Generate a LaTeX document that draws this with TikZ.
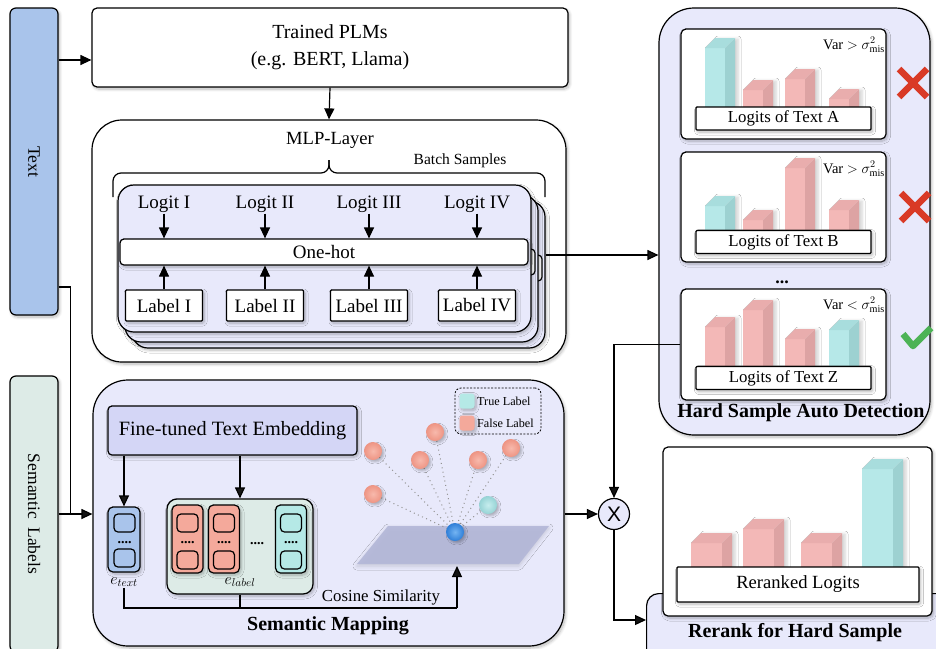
\documentclass[tikz,border=0pt]{standalone}
\usepackage{fix-cm}
\usepackage{fontspec}
\setmainfont{Liberation Serif}
\newfontfamily\sansX{Liberation Sans}
\usetikzlibrary{arrows.meta,shadows.blur,calc}

\definecolor{textblue}{HTML}{A9C4EB}
\definecolor{semgreen}{HTML}{DDEBE7}
\definecolor{lav}{HTML}{E8E9FB}
\definecolor{embfill}{HTML}{D4D6F6}
\definecolor{pinkF}{HTML}{F3B8B7}
\definecolor{pinkS}{HTML}{DDA3A3}
\definecolor{pinkT}{HTML}{E9ADAD}
\definecolor{cyanF}{HTML}{B6E8E8}
\definecolor{cyanS}{HTML}{9DD1D1}
\definecolor{cyanT}{HTML}{A8DDDD}
\definecolor{cellred}{HTML}{F4A99B}
\definecolor{cellcyan}{HTML}{B5E9E6}
\definecolor{pinkin}{HTML}{F7B9AC}
\definecolor{pinkout}{HTML}{EE9483}
\definecolor{cyanin}{HTML}{C6EDEE}
\definecolor{cyanout}{HTML}{96D3D5}
\definecolor{bluein}{HTML}{74B4F2}
\definecolor{blueout}{HTML}{2F7FD8}
\definecolor{planec}{HTML}{B3B7D8}
\definecolor{crossred}{HTML}{D93A26}
\definecolor{checkgreen}{HTML}{4DB356}

\newcommand\setfs[2]{\fontsize{#1}{#2}\selectfont}

% 3-D bar: left x, front-top y, bottom y, width, colour prefix
\newcommand\logitbar[5]{%
  \path[blur shadow={shadow xshift=3pt,shadow yshift=-1pt,shadow blur radius=3pt,shadow opacity=18}]
    (#1,#3) -- (#1,#2) -- (#1+10,#2-10) -- (#1+#4+10,#2-10) -- (#1+#4+10,#3) -- cycle;
  \fill[#5F] (#1,#2) rectangle (#1+#4,#3);
  \fill[#5S] (#1+#4,#2) -- (#1+#4+10,#2-10) -- (#1+#4+10,#3) -- (#1+#4,#3) -- cycle;
  \fill[#5T] (#1,#2) -- (#1+10,#2-10) -- (#1+#4+10,#2-10) -- (#1+#4,#2) -- cycle;
}

\tikzset{
  ln/.style={line width=1.2pt},
  arr/.style={line width=1.2pt, -{Triangle[length=11pt,width=10pt]}},
  shd/.style={blur shadow={shadow xshift=1.5pt, shadow yshift=-2pt, shadow blur radius=3pt, shadow blur steps=8, shadow opacity=28}},
  frame/.style={draw, line width=1.2pt, rounded corners=#1, inner sep=0pt},
  ball/.style={circle, minimum size=18pt, inner sep=0pt, shade, inner color=#1in, outer color=#1out,
    blur shadow={shadow xshift=2pt, shadow yshift=-2pt, shadow blur radius=2pt, shadow opacity=25}},
  title/.style={font=\bfseries\setfs{20}{22}, inner sep=1pt},
  dots/.style={anchor=base, font=\bfseries\setfs{14}{14}, inner sep=0pt},
}

\begin{document}
\begin{tikzpicture}[x=1pt,y=-1pt]
\useasboundingbox (0,0) rectangle (936,648);
\clip (0,0) rectangle (936,648);

% ---------- input bars ----------
\node[frame=6pt, fill=textblue, minimum width=48pt, minimum height=307pt, shd] (textbar) at (34,161.5) {};
\node[rotate=-90, font=\setfs{17.5}{18}] (textlbl) at (textbar) {Text};
\node[frame=6pt, fill=semgreen, minimum width=48pt, minimum height=276pt, shd] (semlab) at (34,514) {};
\node[rotate=-90, font=\setfs{17.5}{18}] (semlbl) at (semlab) {Semantic\hspace{4pt} Labels};

% ---------- PLM and MLP ----------
\node[frame=5pt, fill=white, minimum width=476pt, minimum height=79pt, align=center,
      font=\setfs{20}{27}, shd] (plm) at (330,47.5) {Trained PLMs\\(e.g. BERT, Llama)};
\node[frame=30pt, fill=white, minimum width=474pt, minimum height=242pt, shd] (mlp) at (329,241) {};
\node[font=\setfs{18.6}{20}] (mlpt) at (330,140) {MLP-Layer};

% brace over the batch
\draw[ln, rounded corners=8pt] (113,197) |- (329,173) -- (329,160);
\draw[ln, rounded corners=8pt] (545,197) |- (329,173) -- (329,160);
\node[font=\setfs{15.5}{16}] (batcht) at (460,161) {Batch Samples};

% stacked samples (back to front)
\foreach \dx/\dy/\n in {14/16/3, 7/10/2}{
  \node[frame=16pt, fill=lav, minimum width=413pt, minimum height=147pt, shd] (fr\n) at (324.5+\dx,258.5+\dy) {};
  \node[frame=4pt, fill=white, minimum width=408pt, minimum height=26pt] (oh\n) at (324+\dx,252+\dy) {};
}
\node[frame=16pt, fill=lav, minimum width=413pt, minimum height=147pt, shd] (fr1) at (324.5,258.5) {};
\node[frame=4pt, fill=white, minimum width=408pt, minimum height=26pt, font=\setfs{19}{20}, shd] (oh) at (324,252) {One-hot};

\foreach \i/\x/\t in {1/164/I, 2/265/II, 3/369/III, 4/477/IV}{
  \node[font=\setfs{19}{20}, inner sep=1pt] (lg\i) at (\x,204) {Logit \t};
  \node[frame=1pt, fill=white, minimum width=77pt, minimum height=31pt, font=\setfs{19}{20}, shd] (lb\i) at (\x,305.5) {Label \t};
  \draw[arr] (lg\i.south) -- (lg\i.south |- oh.north);
  \draw[arr] (lb\i.north) -- (lb\i.north |- oh.south);
}

\draw[arr] (plm.south) -- (mlp.north);
\draw[arr] (textbar.east |- 0,60) -- (plm.west |- 0,60);

% ---------- hard sample auto detection ----------
\node[frame=35pt, fill=lav, minimum width=271pt, minimum height=427pt, shd] (hsad) at (794.5,221.5) {};
\node[title] (hsadt) at (801,413) {Hard Sample Auto Detection};

% panel A
\node[frame=5pt, fill=white, minimum width=205pt, minimum height=110pt, shd] (pa) at (783.5,84) {};
\logitbar{705}{48}{115}{20}{cyan}
\logitbar{743}{90}{115}{20}{pink}
\logitbar{785}{79}{115}{20}{pink}
\logitbar{829}{99}{115}{20}{pink}
\node[frame=1pt, fill=white, minimum width=175pt, minimum height=23pt, font=\setfs{16.8}{17}, shd] (la) at (783.5,118.5) {Logits of Text A};
\node[anchor=east, font=\setfs{14.5}{15}, inner sep=1pt] (va) at (886,45) {Var $>$ $\sigma^2_{\mathrm{mis}}$};

% panel B
\node[frame=5pt, fill=white, minimum width=205pt, minimum height=110pt, shd] (pb) at (783.5,207) {};
\logitbar{705}{206}{240}{20}{cyan}
\logitbar{743}{220}{240}{20}{pink}
\logitbar{785}{168}{240}{20}{pink}
\logitbar{829}{210}{240}{20}{pink}
\node[frame=1pt, fill=white, minimum width=175pt, minimum height=23pt, font=\setfs{16.8}{17}, shd] (lbb) at (783.5,242) {Logits of Text B};
\node[anchor=east, font=\setfs{14.5}{15}, inner sep=1pt] (vb) at (886,169) {Var $>$ $\sigma^2_{\mathrm{mis}}$};

\node[dots, font=\bfseries\setfs{18}{18}] (ell) at (782,283) {...};

% panel Z
\node[frame=5pt, fill=white, minimum width=205pt, minimum height=111pt, shd] (pz) at (783.5,344.5) {};
\logitbar{705}{327}{375}{20}{pink}
\logitbar{743}{310}{375}{20}{pink}
\logitbar{785}{339}{375}{20}{pink}
\logitbar{829}{330}{375}{20}{cyan}
\node[frame=1pt, fill=white, minimum width=175pt, minimum height=23pt, font=\setfs{16.8}{17}, shd] (lz) at (783.5,378) {Logits of Text Z};
\node[anchor=east, font=\setfs{14.5}{15}, inner sep=1pt] (vz) at (886,305) {Var $<$ $\sigma^2_{\mathrm{mis}}$};

% verdict marks
\draw[crossred, line width=6.5pt] (899,69) -- (927,97) (927,69) -- (899,97);
\draw[crossred, line width=6.5pt] (901,193) -- (929,221) (929,193) -- (901,221);
\draw[checkgreen, line width=6.5pt, line join=round] (903,334) -- (913,346) -- (931,328);

\draw[arr] (fr3.east |- 0,255) -- (hsad.west |- 0,255);

% ---------- semantic mapping ----------
\node[frame=35pt, fill=lav, minimum width=471pt, minimum height=266pt, shd] (semmap) at (328.5,513) {};
\node[title] (semmapt) at (328,626) {Semantic Mapping};

\node[frame=4pt, fill=embfill, minimum width=249pt, minimum height=49pt, font=\setfs{20.3}{22}, shd] (emb) at (232.5,430.5) {Fine-tuned Text Embedding};

% text embedding vector
\node[frame=5pt, fill=textblue, minimum width=32pt, minimum height=65pt, shd] (etext) at (124,539.5) {};
\node[frame=4pt, fill=textblue, minimum width=21pt, minimum height=18pt] (et1) at (124.5,523) {};
\node[frame=4pt, fill=textblue, minimum width=21pt, minimum height=18pt] (et2) at (124.5,558) {};
\node[dots] (etd) at (124.5,543) {....};
\node[font=\setfs{16}{16}, inner sep=1pt] (etl) at (124,582) {$e_{text}$};

% label embedding vectors
\node[frame=10pt, fill=semgreen, minimum width=146pt, minimum height=95pt, shd] (elabel) at (240,546.5) {};
\foreach \i/\x/\c in {1/187.5/cellred, 2/224/cellred, 3/291/cellcyan}{
  \node[frame=5pt, fill=\c, minimum width=31pt, minimum height=68pt, shd] (cell\i) at (\x,539) {};
  \node[frame=4pt, fill=\c, minimum width=21pt, minimum height=18pt] (cell\i a) at (\x,523) {};
  \node[frame=4pt, fill=\c, minimum width=21pt, minimum height=18pt] (cell\i b) at (\x,560) {};
  \node[dots] (cell\i d) at (\x,543) {....};
}
\node[dots] (eld) at (257,544) {....};
\node[font=\setfs{16}{16}, inner sep=1pt] (ell2) at (240,582) {$e_{label}$};

\draw[arr] (emb.south -| etext.north) -- (etext.north);
\draw[arr] (emb.south -| elabel.north) -- (elabel.north);

% projection plane and points
\fill[planec, opacity=0.9, blur shadow={shadow xshift=0pt, shadow yshift=-2pt, shadow blur radius=4pt, shadow opacity=15}]
  (388,526) -- (549,526) -- (519,564) -- (357,564) -- cycle;
\coordinate (po) at (455,532);
\coordinate (p1) at (373,451);
\coordinate (p2) at (435,432);
\coordinate (p3) at (420,460);
\coordinate (p4) at (478,460);
\coordinate (p5) at (511,448);
\coordinate (p6) at (373,494);
\coordinate (pc) at (488,505);
\foreach \p in {p1,p2,p3,p4,p5,p6,pc}
  \draw[gray!85, line width=1pt, dash pattern=on 1pt off 3.5pt] (\p) -- (po);
\foreach \p in {p1,p2,p3,p4,p5,p6}
  \node[ball=pink] (b\p) at (\p) {};
\node[ball=cyan] (bpc) at (pc) {};
\node[ball=blue] (bpo) at (po) {};

% legend
\node[draw, line width=0.8pt, dash pattern=on 2pt off 1.5pt, rounded corners=6pt, minimum width=86pt, minimum height=46pt, inner sep=0pt] (leg) at (498,411) {};
\node[fill=cellcyan, rounded corners=3pt, minimum size=15pt, inner sep=0pt, shd] (legc) at (467,401) {};
\node[fill=cellred, rounded corners=3pt, minimum size=15pt, inner sep=0pt, shd] (legr) at (467,423) {};
\node[anchor=west, font=\setfs{12.2}{13}, inner sep=1pt] (legct) at (476,401) {True Label};
\node[anchor=west, font=\setfs{12.2}{13}, inner sep=1pt] (legrt) at (476,423) {False Label};

% cosine similarity connector
\coordinate (cs) at (457,608);
\coordinate (pl) at (457,566);
\draw[ln] (etl.south) |- (cs);
\draw[ln] (elabel.south) -- (elabel.south |- cs);
\draw[arr] (cs) -- (pl);
\node[font=\setfs{16.8}{17}, inner sep=1pt] (cst) at (381,597) {Cosine Similarity};

% inputs into the semantic mapping
\draw[ln] (textbar.east |- 0,287) -| ($(semlab.east)+(12,0)$);
\draw[arr] (semlab.east) -- (semmap.west |- semlab.east);

% ---------- rerank ----------
\node[circle, draw, line width=1.2pt, fill=lav, minimum size=31pt, inner sep=0pt, font=\sansX\setfs{21}{21}] (mul) at (614,514) {X};
\draw[arr] (semmap.east |- mul.west) -- (mul.west);
\draw[arr] (pz.west) -| (mul.north);

\node[frame=12pt, fill=lav, minimum width=314pt, minimum height=87pt, shd, anchor=north west] (rr) at (646,593) {};
\node[title] (rrt) at (795,633) {Rerank for Hard Sample};
\draw[arr] (mul.south) |- (rr.west |- 0,620);

\node[frame=5pt, fill=white, minimum width=269pt, minimum height=169pt, shd] (prr) at (797.5,531.5) {};
\logitbar{691}{543}{580}{31}{pink}
\logitbar{743}{529}{580}{31}{pink}
\logitbar{801}{543}{580}{31}{pink}
\logitbar{862}{469}{580}{31}{cyan}
\node[frame=1pt, fill=white, minimum width=242pt, minimum height=35pt, font=\setfs{18.6}{19}, shd] (lrr) at (798,584.5) {Reranked Logits};
\end{tikzpicture}
\end{document}
